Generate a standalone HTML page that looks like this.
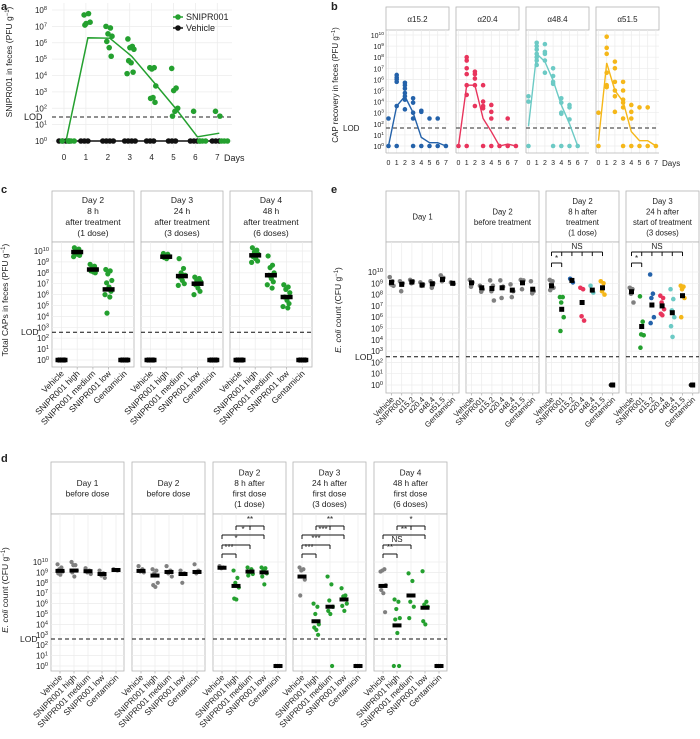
<!DOCTYPE html>
<html><head><meta charset="utf-8"><style>
html,body{margin:0;padding:0;background:#fff}
svg{display:block;font-family:"Liberation Sans",sans-serif}
</style></head><body>
<svg id="fig" width="700" height="739" viewBox="0 0 700 739"></svg>
<script>
// ---------- DATA ----------
const aDays=[0,1,2,3,4,5,6,7];
const aSnipr=[[1,1,1,1,1],[5e7,6e7,1.5e7,1.8e7,1.2e7],[1e7,8e6,3.5e6,2.5e6,1.2e6,5e5,1.5e5],[1.7e6,6e5,5e5,4e5,8e4,6e4,1.6e4,1.3e4],[3e4,3e4,2.5e4,2.3e3,4e2,4.5e2,2.3e2],[2.7e4,1.7e3,1.2e3,1e2,33,65],[65,1,1,1,1],[65,33,1,1,1]];
const aSniprMean=[1,2e6,1.9e6,1.5e5,4e3,1e2,1.8,3];
const aVehicle=[[1,1,1,1],[1,1,1],[1,1,1,1],[1,1,1,1],[1,1,1],[1,1,1],[1,1,1],[1,1,1]];
const aVehicleMean=[1,1,1,1,1,1,1,1];

const bPhages=["α15.2","α20.4","α48.4","α51.5"];
const bPoints=[
 [[1,3e2],[2.5e6,1.5e6,1e6,6e5,4e3,1],[5e5,3e5,1.5e5,6e4,3e4,1.5e4,2e3],[2e4,8e3,1e3,3e2,1],[1.5e3,1.2e3,1],[3e2,1],[3e2,1],[1]],
 [[1],[1e8,5e7,1e7,3e6,3e5,4e4,1],[5e6,3e6,1.2e6,3e5,4e3],[3e5,1e4,4e3,2.5e3,1],[5e3,1.2e3,3e2,1],[1],[3e2,1],[1]],
 [[3e4,1e4,1],[2e9,1e9,5e8,2e8,1e8,5e7,2e7],[1.5e9,3e8,2e8,5e7,4e6],[1e7,2e6,6e5,4e5,1],[2e4,8e3,1e3,8e2,1],[5e3,3e3,2.5e2,1],[1],[]],
 [[1e3,1],[7e9,7e8,2e8,4e6,3e5,2e5],[4e7,1e7,6e5,1e5,3e4,1.2e3],[6e5,1e5,1.5e4,8e3,3e3,3e2,1],[5e3,1.2e3,3e2,1],[3e3,1],[3e3,1],[1]]];
const bMeans=[[1,4e3,3e4,1e3,6,2,2,1],[1,3e5,3e5,3e2,20,1,1.5,1],[60,2e8,4e7,8e5,5e3,1e2,1,null],[3,3e7,1e5,1e4,20,3,3,1]];

const cdCats=["Vehicle","SNIPR001 high","SNIPR001 medium","SNIPR001 low","Gentamicin"];
const cTitles=[["Day 2","8 h","after treatment","(1 dose)"],["Day 3","24 h","after treatment","(3 doses)"],["Day 4","48 h","after treatment","(6 doses)"]];
const cMedians=[[1,8e9,2e8,3e6,1],[1,3e9,5e7,1e7,1],[1,4e9,6e7,6e5,1]];
const cPoints=[
 [[1,1,1,1],[2e10,1.5e10,1e10,8e9,6e9,5e9,4e9,3e9],[6e8,4e8,3e8,2e8,1.5e8,1.2e8,1e8],[2e8,1.5e8,8e7,2e7,1.2e7,5e6,2e6,1e6,6e5,2e4],[1,1,1,1]],
 [[1,1,1,1],[6e9,5e9,4e9,3e9,2.5e9,2e9],[2e9,2.5e8,1e8,6e7,4e7,2e7,1e7,7e6],[4e7,3e7,2e7,1.5e7,8e6,4e6,2e6,1e6],[1,1,1,1]],
 [[1,1,1,1],[2e10,1.2e10,8e9,5e9,3e9,2e9,1.2e9,9e8],[3.5e9,5e8,3e8,1e8,6e7,3e7,1.5e7,8e6,4e6],[8e6,5e6,3e6,1.5e6,6e5,3e5,1.5e5,8e4,6e4],[1,1,1,1]]];

const eCats=["Vehicle","SNIPR001","α15.2","α20.4","α48.4","α51.5","Gentamicin"];
const eTitles=[["Day 1"],["Day 2","before treatment"],["Day 2","8 h after","treatment","(1 dose)"],["Day 3","24 h after","start of treatment","(3 doses)"]];
const eMedians=[[1.2e9,8e8,1.3e9,7e8,9e8,2.2e9,1e9],[1.1e9,4e8,3.5e8,4e8,2.5e8,1.1e9,3e8],[6e8,5e6,1.8e9,2e7,2.5e8,4e8,1],[1.8e8,1.5e5,1.2e7,1e7,2.5e6,8e7,1]];
const ePoints=[
 [[3.5e9,1.5e9,8e8,6e8],[1.5e9,1e9,2e8],[2e9,1.5e9,1e9],[1.2e9,8e8,6e8],[1.5e9,1e9,4e8],[5e9,3e9,1.5e9],[1.2e9,9e8]],
 [[2e9,1.2e9,5e8],[6e8,3e8,1.8e8],[1.8e9,6e8,2e8,3e7],[1.8e9,5e8,5e7],[8e8,2e8,6e7],[2e9,1.8e9,3e8],[1.5e9,2e8,1.3e8]],
 [[2e9,1.5e9,8e8,4e8,2.5e8],[6e7,6e7,2e7,1e6,6e4],[2.5e9,1.2e9],[4e8,3e8,1.2e6,5e5],[6e8,1.5e8],[1.5e9,1e9,2e8,1e8],[1]],
 [[4e8,3e8,1.2e8,2e7],[7e7,4e5,3e4,2.5e4,2e3],[6e9,1.2e8,5e7,1e6,3e5],[8e7,5e7,2e7,5e6,2e6,1.5e6],[3e8,4e7,4e6,1e6,1.6e5,1.8e4],[6e8,5e8,3e8,5e7,1e6],[1]]];

const dTitles=[["Day 1","before dose"],["Day 2","before dose"],["Day 2","8 h after","first dose","(1 dose)"],["Day 3","24 h after","first dose","(3 doses)"],["Day 4","48 h after","first dose","(6 doses)"]];
const dMedians=[[1.4e9,1.5e9,1.3e9,7e8,1.7e9],[1.4e9,5e8,1.1e9,7e8,1.1e9],[2.8e9,5e7,1.2e9,1e9,1],[4e8,2e4,5e5,2.5e6,1],[5e7,8e3,6e6,4e5,1]];
const dPoints=[
 [[6e9,3e9,2e9,1.2e9,8e8,6e8],[1e10,5e9,5e9,1.5e9,1e9,4e8],[2.5e9,1.5e9,1e9,7e8],[1.5e9,8e8,5e8,3e8],[2e9,1.5e9]],
 [[4e9,2e9,1.2e9,1e9],[2e9,1.5e9,8e8,1e8,6e7,4e7],[4e9,1.5e9,8e8,4e8],[1.5e9,8e8,1e8],[6e9,1.5e9,8e8]],
 [[4e9,3e9,2.5e9],[1.5e9,3e8,1e8,3.5e7,3e6,2.5e6],[3e9,2e9,1e9,7e8,5e8],[3e9,2.5e9,1.5e9,8e8,4e8,7e7],[1,1,1]],
 [[3e9,2e9,1.5e9,2e8,6e6],[1e6,5e5,1e5,1e4,5e3,3e3,1e3],[4e8,7e7,2e6,5e5,2e5,1e5,1],[3e7,6e6,5e6,1e6,6e5,2e5],[1,1,1]],
 [[1.2e9,2e9,1.5e9,6e7,2e7,1e7,1.5e5],[2.5e6,1.5e6,3e5,4e4,3e4,1.5e3,1,1],[8e8,1.5e8,1.5e6,5e5,4e4],[1.3e9,1.5e6,8e5,5e5,2e4,1e4],[1,1,1]]];
const dBrackets=[
 [2,0,1,554],[2,0,2,545],[2,0,3,535],[2,1,3,526],
 [3,0,1,554],[3,0,2,545],[3,0,3,535],[3,1,3,526],
 [4,0,1,554],[4,0,2,545],[4,0,3,535],[4,1,3,526]];
const dLabels=[[2,0.5,550,"***"],[2,1,541,"*"],[2,1.5,532,"*"],[2,2,522,"**"],
 [3,0.5,550,"***"],[3,1,541,"***"],[3,1.5,532,"***"],[3,2,522,"**"],
 [4,0.5,550,"**"],[4,1,542,"NS"],[4,1.5,532,"**"],[4,2,522,"*"]];

// ---------- HELPERS ----------
const NS='http://www.w3.org/2000/svg';
const svg=document.getElementById('fig');
const J=[-0.7,0.4,-0.2,0.8,-0.5,0.1,0.6,-0.9,0.3,-0.4,0.9,-0.1];
const GREEN='#24a02f',GRAY='#808080',BORDER='#b4b4b4',GRID='#ececec';
const PH=['#2462aa','#e8345c','#6ccac5','#f5b719'];
function el(tag,attrs,name,parent){
  const e=document.createElementNS(NS,tag);
  for(const k in attrs)e.setAttribute(k,attrs[k]);
  
  
  (parent||svg).appendChild(e);return e;
}
function txt(x,y,s,size,extra,name){
  const t=el('text',Object.assign({x:x,y:y,'font-size':size,fill:'#222'},extra||{}),name);
  t.textContent=s;return t;
}
function pow(x,y,e,size,name){
  const t=el('text',{x:x,y:y,'font-size':size,fill:'#222','text-anchor':'end'},name);
  const a=document.createElementNS(NS,'tspan');a.textContent='10';t.appendChild(a);
  const b=document.createElementNS(NS,'tspan');b.setAttribute('dy',-3);b.setAttribute('font-size',size*0.7);b.textContent=e;t.appendChild(b);
}
function ylog(top10,y0,dec){return v=>y0-Math.log10(v)*(y0-top10)/dec;}
function line(x1,y1,x2,y2,st,w,name,dash){
  const a={x1:x1,y1:y1,x2:x2,y2:y2,stroke:st,'stroke-width':w};
  if(dash)a['stroke-dasharray']=dash;return el('line',a,name);
}
function poly(pts,col,w,name){
  el('polyline',{points:pts.map(p=>p.join(',')).join(' '),fill:'none',stroke:col,'stroke-width':w},name);
}
function ytitle(x,y,s,size,name){
  const t=el('text',{x:0,y:0,'font-size':size,fill:'#222','text-anchor':'middle',transform:`translate(${x},${y}) rotate(-90)`},name);
  t.innerHTML=s;
}

// ---------- PANEL A ----------
(function(){
  const L=52,R=232,T=3,B=148;const y=ylog(10,141,8);const x=d=>64+d*21.9;
  for(let e=0;e<=8;e++){line(L,y(Math.pow(10,e)),R,y(Math.pow(10,e)),GRID,0.8,'a-grid-y');pow(47,y(Math.pow(10,e))+3,e,8,'a-ytick');}
  aDays.forEach(d=>{line(x(d),T,x(d),B,GRID,0.8,'a-grid-x');txt(x(d),160,String(d),8,{'text-anchor':'middle'},'a-xtick');});
  txt(224,161,'Days',9,{},'a-x-title');
  line(L,117,R,117,'#222',1,'a-lod-line','4,3');txt(24,120,'LOD',9,{},'a-lod-label');
  poly(aDays.map((d,i)=>[x(d)+2,y(aVehicleMean[i])]),'#111',1.5,'a-vehicle-line');
  aVehicle.forEach((arr,i)=>arr.forEach((v,k)=>{el('circle',{cx:x(aDays[i])-5+k*3.5,cy:y(v),r:2.8,fill:'#111'},'a-vehicle-point');}));
  poly(aDays.map((d,i)=>[x(d)+2,y(aSniprMean[i])]),GREEN,1.5,'a-snipr-line');
  aSnipr.forEach((arr,i)=>arr.forEach((v,k)=>{el('circle',{cx:x(aDays[i])+1+J[k]*4+ (v<=1?k*2:0),cy:y(v),r:2.8,fill:GREEN},'a-snipr-point');}));
  line(173,17,183,17,GREEN,1.5,'a-legend-line');el('circle',{cx:178,cy:17,r:2.8,fill:GREEN},'a-legend-marker');txt(186,20,'SNIPR001',9,{},'a-legend-label');
  line(173,28,183,28,'#111',1.5,'a-legend-line');el('circle',{cx:178,cy:28,r:2.8,fill:'#111'},'a-legend-marker');txt(186,31,'Vehicle',9,{},'a-legend-label');
  ytitle(12,62,'SNIPR001 in feces (PFU g<tspan dy="-3" font-size="6">−1</tspan><tspan dy="3">)</tspan>',8.5,'a-y-title');
  txt(1,10,'a',11,{'font-weight':'bold'},'panel-a-letter');
})();

// ---------- PANEL B ----------
(function(){
  const xs=[386,456,526,596],W=63,HT=7,HB=30,B=153;const y=ylog(35,146,10);
  xs.forEach((L,f)=>{
    el('rect',{x:L,y:HT,width:W,height:HB-HT,fill:'#fff',stroke:BORDER,'stroke-width':0.8},'b-facet-header');
    txt(L+W/2,HT+15,bPhages[f],8,{'text-anchor':'middle'},'b-facet-title');
    const x=d=>L+2.5+d*8.2;
    for(let e=0;e<=10;e++)line(L,y(Math.pow(10,e)),L+W,y(Math.pow(10,e)),GRID,0.7,'b-grid-y');
    for(let d=0;d<=7;d++){line(x(d),HB,x(d),B,GRID,0.7,'b-grid-x');txt(x(d),165,String(d),7,{'text-anchor':'middle'},'b-xtick');}
    line(L,B,L+W,B,BORDER,0.8,'b-x-axis');line(L,HB,L,B,BORDER,0.8,'b-y-axis');line(L,128,L+W,128,'#555',1.2,'b-lod-line','4,3');
    bPoints[f].forEach((arr,d)=>arr.forEach(v=>el('circle',{cx:x(d),cy:y(v),r:2.3,fill:PH[f]},'b-point')));
    const pts=[];bMeans[f].forEach((v,d)=>{if(v!==null)pts.push([x(d),y(v)]);});poly(pts,PH[f],1.4,'b-mean-line');
  });
  for(let e=0;e<=10;e++)pow(384,y(Math.pow(10,e))+3,e,7,'b-ytick');
  txt(662,166,'Days',8,{},'b-x-title');txt(343,131,'LOD',8,{},'b-lod-label');
  ytitle(338,85,'CAP recovery in feces (PFU g<tspan dy="-3" font-size="5.5">−1</tspan><tspan dy="3">)</tspan>',8,'b-y-title');
  txt(331,10,'b',11,{'font-weight':'bold'},'panel-b-letter');
})();

// ---------- generic facet panels ----------
function facets(o){
  const y=ylog(o.top10,o.y0,10);
  o.xs.forEach((L,f)=>{
    el('rect',{x:L,y:o.HT,width:o.W,height:o.HB-o.HT,fill:'#fff',stroke:BORDER,'stroke-width':0.8},o.p+'-facet-header');
    const lines=o.titles[f],mid=(o.HT+o.HB)/2;
    lines.forEach((s,i)=>txt(L+o.W/2,mid-(lines.length-1)*o.lh/2+i*o.lh+3,s,o.tfs,{'text-anchor':'middle'},o.p+'-facet-title'));
    el('rect',{x:L,y:o.HB,width:o.W,height:o.B-o.HB,fill:'#fff',stroke:BORDER,'stroke-width':0.8},o.p+'-facet-frame');
    for(let e=0;e<=10;e++)line(L,y(Math.pow(10,e)),L+o.W,y(Math.pow(10,e)),GRID,0.7,o.p+'-grid-y');
    const x=i=>L+o.first+i*o.step;
    o.cats.forEach((c,i)=>{
      line(x(i),o.HB,x(i),o.B,GRID,0.7,o.p+'-grid-x');line(x(i),o.B,x(i),o.B+2.5,BORDER,0.8,o.p+'-xtick-mark');
      txt(0,0,c,o.cfs,{'text-anchor':'end',transform:`translate(${x(i)+3},${o.B+7}) rotate(-45)`},o.p+'-xtick-label');
    });
    line(L,y(Math.pow(10,o.lod)),L+o.W,y(Math.pow(10,o.lod)),'#111',1,o.p+'-lod-line','4,3');
    o.points[f].forEach((arr,i)=>{const col=o.color(f,i);arr.forEach((v,k)=>el('circle',{cx:x(i)+J[k%J.length]*o.jit,cy:y(v),r:o.r,fill:col},o.p+'-point'));});
    o.medians[f].forEach((v,i)=>el('rect',{x:x(i)-o.mw/2,y:y(v)-o.mh/2,width:o.mw,height:o.mh,fill:'#000'},o.p+'-median'));
  });
  for(let e=0;e<=10;e++)pow(o.xs[0]-3,y(Math.pow(10,e))+3,e,8,o.p+'-ytick');
  txt(o.xs[0]-31,y(Math.pow(10,o.lod))+3,'LOD',8.5,{},o.p+'-lod-label');
  return y;
}

// ---------- PANEL C ----------
facets({p:'c',xs:[52,141,230],W:82,HT:191,HB:242,B:367,top10:251,y0:360,lod:2.55,titles:cTitles,lh:11,tfs:8.5,
  cats:cdCats,first:9.5,step:15.7,cfs:8.5,points:cPoints,medians:cMedians,r:2.6,jit:4,mw:12,mh:4.5,
  color:(f,i)=>(i==0||i==4)?'#111':GREEN});
ytitle(8,300,'Total CAPs in feces (PFU g<tspan dy="-3" font-size="6">−1</tspan><tspan dy="3">)</tspan>',8.5,'c-y-title');
txt(1,193,'c',11,{'font-weight':'bold'},'panel-c-letter');

// ---------- PANEL E ----------
facets({p:'e',xs:[386,466,546,626],W:73,HT:191,HB:242,B:393,top10:272,y0:385,lod:2.5,titles:eTitles,lh:10.5,tfs:7.8,
  cats:eCats,first:5.5,step:10.2,cfs:7.8,points:ePoints,medians:eMedians,r:2.3,jit:2.5,mw:5,mh:5,
  color:(f,i)=>{if(f<2)return GRAY;if(i==0)return GRAY;if(i==1)return GREEN;if(i==6)return '#111';return PH[i-2];}});
[546,626].forEach(L=>{
  const x=i=>L+5.5+i*10.2;
  line(x(0),252,x(5),252,'#111',1,'e-bracket-ns');
  for(let i=0;i<=5;i++)line(x(i),252,x(i),256,'#111',1,'e-bracket-tick');
  txt((x(0)+x(5))/2,249,'NS',8,{'text-anchor':'middle'},'e-bracket-label');
  line(x(0),263,x(1),263,'#111',1,'e-bracket-star');line(x(0),263,x(0),267,'#111',1,'e-bracket-tick');line(x(1),263,x(1),267,'#111',1,'e-bracket-tick');
  txt((x(0)+x(1))/2,261,'*',8,{'text-anchor':'middle'},'e-bracket-label');
});
ytitle(341,310,'<tspan font-style="italic">E. coli</tspan> count (CFU g<tspan dy="-3" font-size="6">−1</tspan><tspan dy="3">)</tspan>',8.5,'e-y-title');
txt(331,193,'e',11,{'font-weight':'bold'},'panel-e-letter');

// ---------- PANEL D ----------
(function(){
  const xs=[51,132,213,293,374];
  facets({p:'d',xs:xs,W:73,HT:462,HB:514,B:671,top10:562,y0:666,lod:2.6,titles:dTitles,lh:10.5,tfs:8.3,
    cats:cdCats,first:9,step:14,cfs:8.3,points:dPoints,medians:dMedians,r:2.1,jit:3.5,mw:9,mh:4,
    color:(f,i)=>{if(f<2)return GRAY;if(i==0)return GRAY;if(i==4)return '#111';return GREEN;}});
  const x=(f,i)=>xs[f]+9+i*14;
  dBrackets.forEach(b=>{
    const [f,a,c,yy]=b;
    line(x(f,a),yy,x(f,c),yy,'#111',1,'d-bracket');
    for(let i=a;i<=c;i++)if(i==a||i==c||(a==1&&i==2))line(x(f,i),yy,x(f,i),yy+4,'#111',1,'d-bracket-tick');
  });
  dLabels.forEach(l=>txt(xs[l[0]]+9+l[1]*14,l[2],l[3],8,{'text-anchor':'middle'},'d-bracket-label'));
  ytitle(8,590,'<tspan font-style="italic">E. coli</tspan> count (CFU g<tspan dy="-3" font-size="6">−1</tspan><tspan dy="3">)</tspan>',8.5,'d-y-title');
  txt(1,462,'d',11,{'font-weight':'bold'},'panel-d-letter');
})();
</script>
</body></html>
